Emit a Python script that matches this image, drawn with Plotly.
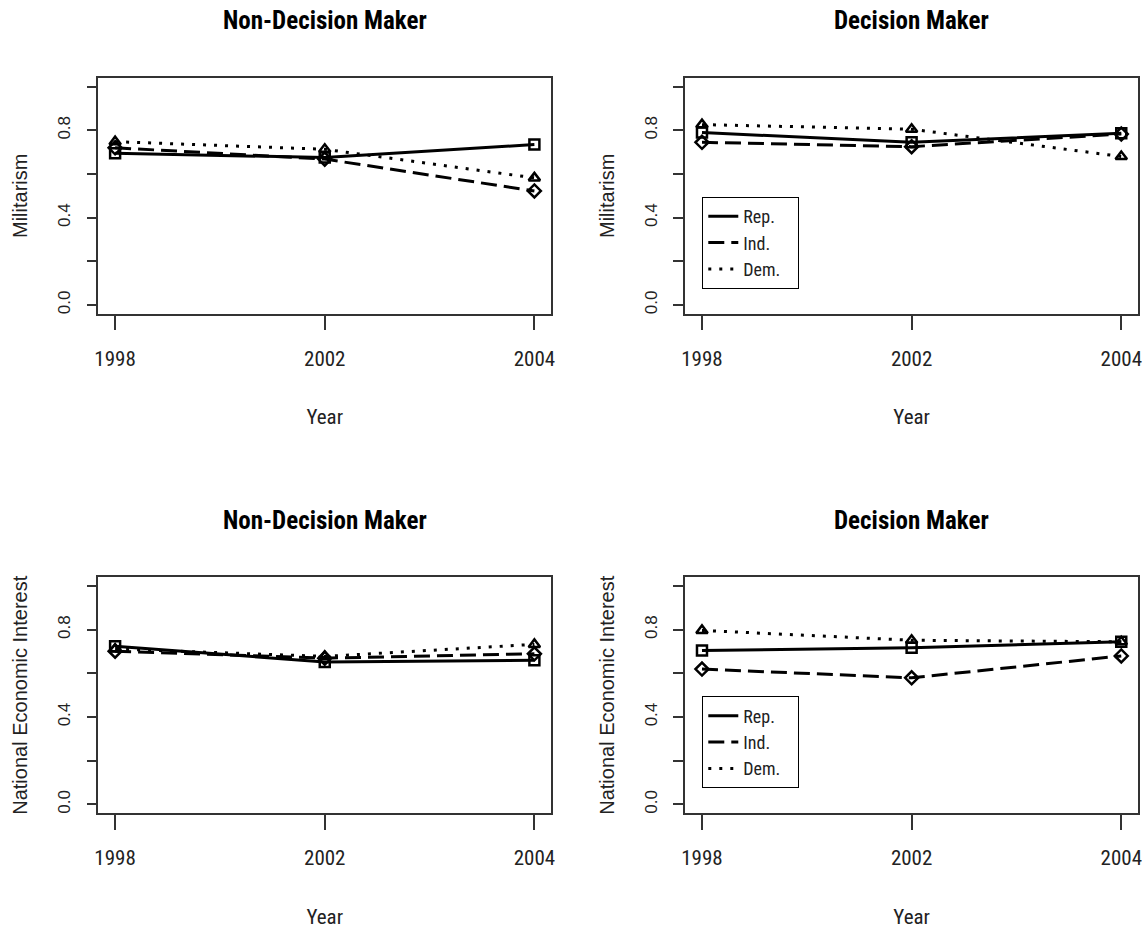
import plotly.graph_objects as go

# ---------------- data ----------------
years = ["1998", "2002", "2004"]
parties = ["Rep.", "Ind.", "Dem."]

nondm_mil_rep = [0.695, 0.675, 0.735]
nondm_mil_ind = [0.720, 0.668, 0.522]
nondm_mil_dem = [0.748, 0.713, 0.582]

dm_mil_rep = [0.790, 0.745, 0.787]
dm_mil_ind = [0.745, 0.725, 0.783]
dm_mil_dem = [0.826, 0.805, 0.680]

nondm_nei_rep = [0.725, 0.652, 0.660]
nondm_nei_ind = [0.702, 0.670, 0.690]
nondm_nei_dem = [0.712, 0.678, 0.733]

dm_nei_rep = [0.705, 0.718, 0.745]
dm_nei_ind = [0.620, 0.580, 0.680]
dm_nei_dem = [0.797, 0.752, 0.745]

panel_titles = ["Non-Decision Maker", "Decision Maker", "Non-Decision Maker", "Decision Maker"]
y_titles = ["Militarism", "Militarism", "National Economic Interest", "National Economic Interest"]
x_title = "Year"
y_tickvals = [0.0, 0.2, 0.4, 0.6, 0.8, 1.0]
y_ticktext = ["0.0", "", "0.4", "", "0.8", ""]

# ---------------- style ----------------
W, H = 1146, 930
NARROW = "Liberation Sans Narrow, Arial Narrow, Roboto Condensed, Liberation Sans, Arial, sans-serif"
SANS = "Liberation Sans, Arial, sans-serif"

styles = {
    "Rep.": dict(dash="solid", symbol="square-open"),
    "Ind.": dict(dash="16px,7px", symbol="diamond-open"),
    "Dem.": dict(dash="3px,8px", symbol="triangle-up-open"),
}

panels = [
    (nondm_mil_rep, nondm_mil_ind, nondm_mil_dem),
    (dm_mil_rep, dm_mil_ind, dm_mil_dem),
    (nondm_nei_rep, nondm_nei_ind, nondm_nei_dem),
    (dm_nei_rep, dm_nei_ind, dm_nei_dem),
]

# box positions in pixels (left, right, top, bottom)
boxes = [
    (95, 551, 78, 314),
    (686, 1142, 78, 314),
    (95, 551, 578, 814),
    (686, 1142, 578, 814),
]

fig = go.Figure()
layout = dict(
    width=W, height=H,
    margin=dict(l=0, r=0, t=0, b=0),
    paper_bgcolor="white", plot_bgcolor="white",
    showlegend=True,
    annotations=[],
)

for i, (series, box) in enumerate(zip(panels, boxes)):
    n = i + 1
    xa = "xaxis" if n == 1 else f"xaxis{n}"
    ya = "yaxis" if n == 1 else f"yaxis{n}"
    xref = "x" if n == 1 else f"x{n}"
    yref = "y" if n == 1 else f"y{n}"
    l, r, t, b = box
    layout[xa] = dict(
        domain=[l / W, r / W], anchor=yref,
        type="category", range=[-0.08, 2.08],
        showline=True, mirror=True, linecolor="#333", linewidth=1.5,
        ticks="outside", ticklen=15, tickwidth=1.5, tickcolor="#333",
        showgrid=False, zeroline=False,
        tickfont=dict(family=NARROW, size=21, color="#222"),
        ticklabelstandoff=10,
        title=dict(text=x_title, font=dict(family=NARROW, size=21, color="#222"), standoff=40),
    )
    layout[ya] = dict(
        domain=[1 - b / H, 1 - t / H], anchor=xref,
        range=[-0.04, 1.04],
        tickvals=y_tickvals, ticktext=y_ticktext, tickangle=-90,
        showline=True, mirror=True, linecolor="#333", linewidth=1.5,
        ticks="outside", ticklen=10, tickwidth=1.5, tickcolor="#333",
        showgrid=False, zeroline=False,
        tickfont=dict(family=SANS, size=17, color="#222"),
        ticklabelstandoff=10,
        title=dict(text=y_titles[i], font=dict(family=SANS, size=20, color="#222"), standoff=22),
    )
    layout["annotations"].append(dict(
        text=f"<b>{panel_titles[i]}</b>", x=(l + r) / 2 / W, y=1 - (t - 57) / H,
        xref="paper", yref="paper", xanchor="center", yanchor="middle", showarrow=False,
        font=dict(family=NARROW, size=25, color="black"),
    ))
    for party, vals in zip(parties, series):
        st = styles[party]
        fig.add_trace(go.Scatter(
            x=years, y=vals, mode="lines+markers", xaxis=xref, yaxis=yref,
            line=dict(color="black", width=3, dash=st["dash"]),
            marker=dict(symbol=st["symbol"], size=10, color="black", line=dict(color="black", width=2.5)),
            showlegend=False, name=party,
        ))

# legend entries (lines only) for right-hand panels
for leg, xref, yref in [("legend", "x2", "y2"), ("legend2", "x4", "y4")]:
    for party in parties:
        st = styles[party]
        fig.add_trace(go.Scatter(
            x=[None], y=[None], mode="lines", xaxis=xref, yaxis=yref,
            line=dict(color="black", width=3, dash=st["dash"]),
            name=party + "   ", legend=leg, showlegend=True,
        ))

legend_common = dict(
    xanchor="left", yanchor="top", bgcolor="white",
    bordercolor="black", borderwidth=1.2,
    font=dict(family=NARROW, size=18, color="#222"),
    itemwidth=30, tracegroupgap=0,
)
layout["legend"] = dict(x=703 / W, y=1 - 197 / H, **legend_common)
layout["legend2"] = dict(x=703 / W, y=1 - 697 / H, **legend_common)

fig.update_layout(**layout)
fig.write_html("out.html", config={"displayModeBar": False},
               post_script="document.body.style.margin='0';")
